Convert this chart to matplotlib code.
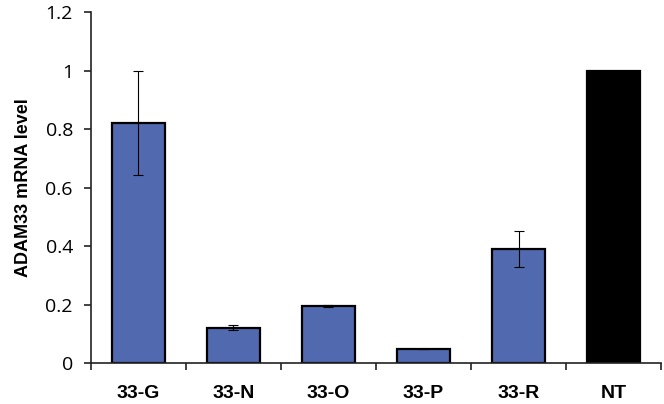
import matplotlib
matplotlib.use("Agg")
import matplotlib.pyplot as plt
import numpy as np

categories = ["33-G", "33-N", "33-O", "33-P", "33-R", "NT"]
values = [0.82, 0.121, 0.195, 0.048, 0.39, 1.0]
errors = [0.178, 0.008, 0.005, 0.0, 0.061, 0.0]
colors = ["#5169AF", "#5169AF", "#5169AF", "#5169AF", "#5169AF", "#000000"]
yticks = [0, 0.2, 0.4, 0.6, 0.8, 1, 1.2]
ytick_labels = ["0", "0.2", "0.4", "0.6", "0.8", "1", "1.2"]

fig = plt.figure(figsize=(6.64, 4.04), dpi=100)
ax = fig.add_axes([0.137, 0.1015, 0.8585, 0.8685])

x = np.arange(len(categories))
ax.bar(x, values, width=0.56, color=colors, edgecolor="black", linewidth=1.6, zorder=2)
ax.errorbar(x, values, yerr=errors, fmt="none", ecolor="black", elinewidth=0.8,
            capsize=3.5, capthick=0.8, zorder=3)

ax.set_xlim(-0.5, len(categories) - 0.5)
ax.set_ylim(0, 1.2)
ax.set_yticks(yticks)
ax.set_yticklabels(ytick_labels, fontfamily="Open Sans", fontsize=14)
ax.set_xticks(x)
ax.set_xticklabels(categories, fontfamily="Liberation Sans", fontweight="bold", fontsize=14)
ax.set_xticks(np.arange(-0.5, len(categories)), minor=True)
ax.tick_params(axis="x", which="major", length=0, pad=16)
ax.tick_params(axis="x", which="minor", length=5, width=1.2, color="#222222")
ax.tick_params(axis="y", length=5, width=1.2, color="#222222", pad=8)

for s in ["top", "right"]:
    ax.spines[s].set_visible(False)
for s in ["left", "bottom"]:
    ax.spines[s].set_linewidth(1.2)
    ax.spines[s].set_color("#222222")

ax.set_ylabel("ADAM33 mRNA level", fontfamily="Liberation Sans", fontweight="bold",
              fontsize=13, labelpad=10)

fig.savefig("out.png", dpi=100)
